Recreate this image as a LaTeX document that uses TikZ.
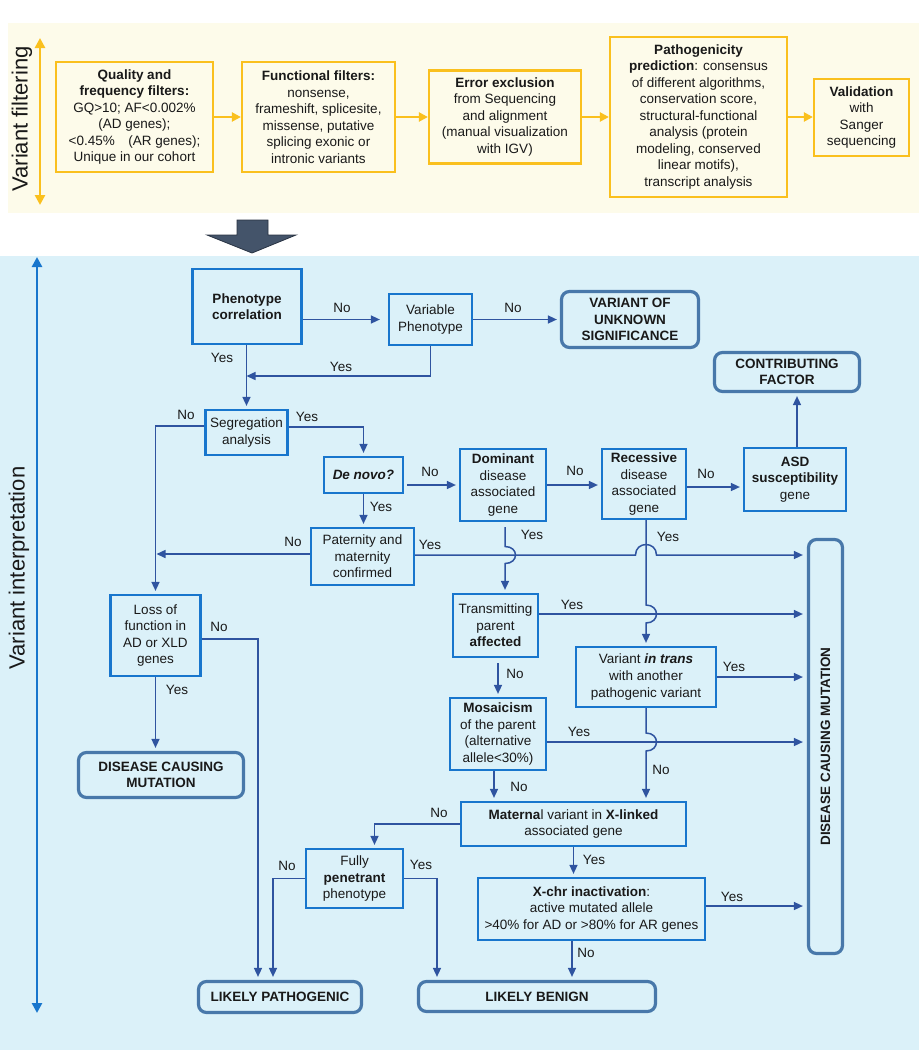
\documentclass[tikz,border=0pt]{standalone}
\usepackage{fontspec}
\setmainfont{Liberation Sans}
\usetikzlibrary{arrows.meta,calc}
\definecolor{cream}{RGB}{253,251,234}
\definecolor{lblue}{RGB}{219,241,249}
\definecolor{ybord}{RGB}{250,192,30}
\definecolor{bbord}{RGB}{24,118,205}
\definecolor{cline}{RGB}{47,84,160}
\definecolor{term}{RGB}{72,120,170}
\definecolor{darrow}{RGB}{68,84,106}
\definecolor{darrowedge}{RGB}{40,50,66}
\definecolor{txt}{RGB}{25,25,25}
\tikzset{
  every node/.style={font=\fontsize{13.5}{16.5}\selectfont, text=txt, inner sep=1pt},
  sz/.style 2 args={minimum width=#1pt, minimum height=#2pt},
  yelbox/.style={draw=ybord, line width=2.2pt, align=center},
  bluebox/.style={draw=bbord, line width=2.2pt, align=center},
  termbox/.style={draw=term, line width=3.2pt, rounded corners=8pt, align=center, font=\fontsize{13.5}{16.5}\selectfont\bfseries},
  yarr/.style={draw=ybord, line width=2.2pt, -{Triangle[length=9pt,width=9pt]}},
  arr/.style={draw=cline, line width=1.5pt, -{Triangle[length=9pt,width=8pt]}, shorten >=3pt},
  lab/.style={inner sep=0pt},
}
\begin{document}
\begin{tikzpicture}[x=1pt,y=-1pt]
\useasboundingbox (0,0) rectangle (919,1050);
\fill[white] (0,0) rectangle (919,1050);
\fill[cream] (8,23) rectangle (919,213);
\fill[lblue] (0,256) rectangle (919,1050);

% ---------- Variant filtering ----------
\node[rotate=90, font=\fontsize{22}{26}\selectfont] (vf) at (22,119) {Variant filtering};
\coordinate (ya) at (40,38);
\coordinate (yb) at (40,205);
\draw[ybord, line width=2.5pt, {Triangle[length=10pt,width=10pt]}-{Triangle[length=10pt,width=10pt]}] (ya) -- (yb);

\node[yelbox, sz={157}{110}] (q) at (134.5,117) {\textbf{Quality and}\\\textbf{frequency filters:}\\GQ>10; AF<0.002\%\\(AD genes);\\<0.45\%\quad(AR genes);\\Unique in our cohort};
\node[yelbox, sz={153}{110}] (f) at (318.5,117) {\textbf{Functional filters:}\\nonsense,\\frameshift, splicesite,\\missense, putative\\splicing exonic or\\intronic variants};
\node[yelbox, sz={152}{93}] (e) at (505,117) {\textbf{Error exclusion}\\from Sequencing\\and alignment\\(manual visualization\\with IGV)};
\node[yelbox, sz={177}{160}] (p) at (698.5,117) {\textbf{Pathogenicity}\\\textbf{prediction}: consensus\\of different algorithms,\\conservation score,\\structural-functional\\analysis (protein\\modeling, conserved\\linear motifs),\\transcript analysis};
\node[yelbox, sz={95}{77}] (v) at (861.5,117.5) {\textbf{Validation}\\with\\Sanger\\sequencing};

\draw[yarr] (q.east) -- (f.west);
\draw[yarr] (f.east) -- (e.west);
\draw[yarr] (e.east) -- (e.east -| p.west);
\draw[yarr] (p.east) -- (p.east -| v.west);

% big arrow between stages
\filldraw[fill=darrow, draw=darrowedge, line width=0.8pt] (237,220) -- (268,220) -- (268,235) -- (296,235) -- (252,253) -- (207,235) -- (237,235) -- cycle;

% ---------- Variant interpretation ----------
\node[rotate=90, font=\fontsize{22}{26}\selectfont] (vi) at (19,568) {Variant interpretation};
\coordinate (ba) at (37,257);
\coordinate (bb) at (37,1013);
\draw[bbord, line width=2.5pt, {Triangle[length=10pt,width=10pt]}-{Triangle[length=10pt,width=10pt]}] (ba) -- (bb);

\node[bluebox, sz={109}{75}, font=\fontsize{13.5}{16.5}\selectfont\bfseries] (phen) at (247,306.5) {Phenotype\\correlation};
\node[bluebox, sz={83}{51}] (var) at (430.5,319.5) {Variable\\Phenotype};
\node[termbox, sz={137}{56}] (vus) at (630,319.5) {VARIANT OF\\UNKNOWN\\SIGNIFICANCE};
\node[termbox, sz={145}{39}] (cf) at (787,372) {CONTRIBUTING\\FACTOR};
\node[bluebox, sz={82}{45}] (seg) at (246.5,432.5) {Segregation\\analysis};
\node[bluebox, sz={79}{36}] (dn) at (363.5,475) {\textbf{\textit{De novo?}}};
\node[bluebox, sz={86}{72}] (dom) at (503,485) {\textbf{Dominant}\\disease\\associated\\gene};
\node[bluebox, sz={84}{70}] (rec) at (644,484) {\textbf{Recessive}\\disease\\associated\\gene};
\node[bluebox, sz={102}{63}] (asd) at (795,479.5) {\textbf{ASD}\\\textbf{susceptibility}\\gene};
\node[bluebox, sz={103}{57}] (pat) at (362.5,556.5) {Paternity and\\maternity\\confirmed};
\node[bluebox, sz={90}{81}] (lof) at (155.5,635.5) {Loss of\\function in\\AD or XLD\\genes};
\node[termbox, sz={165}{45}] (dcm1) at (161,775) {DISEASE CAUSING\\MUTATION};
\node[bluebox, sz={85}{63}] (tpa) at (495.5,625.5) {Transmitting\\parent\\\textbf{affected}};
\node[bluebox, sz={140}{60}] (vit) at (646,677) {Variant \textbf{\textit{in trans}}\\with another\\pathogenic variant};
\node[bluebox, sz={96}{72}] (mos) at (498,734) {\textbf{Mosaicism}\\of the parent\\(alternative\\allele<30\%)};
\node[termbox, sz={414}{34}, rotate=90] (dcm2) at (825.5,746.5) {DISEASE CAUSING MUTATION};
\node[bluebox, sz={225}{44}] (mat) at (573.5,824) {\textbf{Materna}l variant in \textbf{X-linked}\\associated gene};
\node[bluebox, sz={97}{59}] (fp) at (354.5,878.5) {Fully\\\textbf{penetrant}\\phenotype};
\node[bluebox, sz={227}{62}] (xchr) at (591.5,909) {\textbf{X-chr inactivation}:\\active mutated allele\\>40\% for AD or >80\% for AR genes};
\node[termbox, sz={163}{31}] (lp) at (280,997) {LIKELY PATHOGENIC};
\node[termbox, sz={237}{30}] (lb) at (537,996.5) {LIKELY BENIGN};

% ---------- connectors ----------
\draw[arr, shorten >=8pt] (phen.east |- var.west) -- (var.west);
\draw[arr] (var.east) -- (var.east -| vus.west);
\draw[arr] (seg.north |- phen.south) -- (seg.north);
\coordinate (j1) at (246.5,376);
\draw[arr, shorten >=0pt] (var.south) |- (j1);
\draw[arr] ([yshift=5.5pt]seg.east) -| (dn.north);
\draw[arr] ([yshift=6.5pt]seg.west) -| (lof.north);
\draw[arr, shorten <=3pt] (dn.east |- dom.west) -- (dom.west);
\draw[arr] (dom.east) -- (dom.east -| rec.west);
\draw[arr] ([yshift=-3pt]rec.east) -- ([yshift=-3pt]rec.east -| asd.west);
\draw[arr] ([xshift=2pt]asd.north) -- ([xshift=2pt]asd.north |- cf.south);
\draw[arr] (dn.south) -- (dn.south |- pat.north);
\draw[arr, shorten >=1pt] ([yshift=2.5pt]pat.west) -- ([yshift=2.5pt]pat.west -| lof.north);

% paternity yes line with hop over recessive line
\coordinate (py) at ([yshift=1.5pt]pat.east);
\coordinate (h1) at (vit.north |- py);
\draw[arr, shorten >=4pt] (py) -- ([xshift=-10.5pt]h1) .. controls +(0,-14) and +(0,-14) .. ([xshift=10.5pt]h1) -- (py -| dcm2.north);

% dominant yes with hop
\coordinate (dx) at ([xshift=2pt]dom.south);
\coordinate (h2) at (dx |- py);
\draw[arr, shorten <=5pt] (dx) -- ([yshift=8.5pt]h2) .. controls +(14,0) and +(14,0) .. ([yshift=-8.5pt]h2) -- (h2 |- tpa.north);

% recessive yes with hop
\coordinate (ty) at ([yshift=11.5pt]tpa.east);
\coordinate (h3) at (vit.north |- ty);
\draw[arr] (vit.north |- rec.south) -- ([yshift=9pt]h3) .. controls +(14,0) and +(14,0) .. ([yshift=-9pt]h3) -- (vit.north);

\draw[arr, shorten >=4pt] (ty) -- (ty -| dcm2.north);
\draw[arr, shorten <=5pt] (tpa.south -| mos.north) -- (mos.north);
\draw[arr, shorten >=4pt] (vit.east) -- (vit.east -| dcm2.north);

% in trans no with hop
\coordinate (my) at ([yshift=-8pt]mos.east);
\coordinate (h4) at (vit.south |- my);
\draw[arr] (vit.south) -- ([yshift=9pt]h4) .. controls +(14,0) and +(14,0) .. ([yshift=-9pt]h4) -- (vit.south |- mat.north);
\draw[arr, shorten >=4pt] (my) -- (my -| dcm2.north);

\draw[arr] ([xshift=-4pt]mos.south) -- ([xshift=-4pt]mos.south |- mat.north);
\draw[arr] (mat.west) -| ([xshift=20pt]fp.north);
\draw[arr] (mat.south) -- (mat.south |- xchr.north);
\draw[arr, shorten >=4pt] ([yshift=3pt]xchr.east) -- ([yshift=3pt]xchr.east -| dcm2.north);
\draw[arr] ([xshift=-19.5pt]xchr.south) -- ([xshift=-19.5pt]xchr.south |- lb.north);
\draw[arr] (fp.west) -| ([xshift=-7pt]lp.north);
\draw[arr] (fp.east) -| ([xshift=-100pt]lb.north);
\draw[arr] ([yshift=-3.5pt]lof.east) -| ([xshift=-22pt]lp.north);
\draw[arr] (lof.south) -- (lof.south |- dcm1.north);

% ---------- labels ----------
\node[lab] (l1) at (342,308) {No};
\node[lab] (l2) at (513,308) {No};
\node[lab] (l3) at (222,358) {Yes};
\node[lab] (l4) at (341,367) {Yes};
\node[lab] (l5) at (186,415) {No};
\node[lab] (l6) at (307,417) {Yes};
\node[lab] (l7) at (430,472) {No};
\node[lab] (l8) at (381,507) {Yes};
\node[lab] (l9) at (575,471) {No};
\node[lab] (l10) at (706,474) {No};
\node[lab] (l11) at (293,542) {No};
\node[lab] (l12) at (430,545) {Yes};
\node[lab] (l13) at (532,535) {Yes};
\node[lab] (l14) at (668,537) {Yes};
\node[lab] (l15) at (572,605) {Yes};
\node[lab] (l16) at (219,627) {No};
\node[lab] (l17) at (177,690) {Yes};
\node[lab] (l18) at (734,667) {Yes};
\node[lab] (l19) at (515,674) {No};
\node[lab] (l20) at (579,732) {Yes};
\node[lab] (l21) at (661,770) {No};
\node[lab] (l22) at (519,787) {No};
\node[lab] (l23) at (439,813) {No};
\node[lab] (l24) at (594,860) {Yes};
\node[lab] (l25) at (287,866) {No};
\node[lab] (l26) at (421,865) {Yes};
\node[lab] (l27) at (732,897) {Yes};
\node[lab] (l28) at (586,953) {No};
\end{tikzpicture}
\end{document}
